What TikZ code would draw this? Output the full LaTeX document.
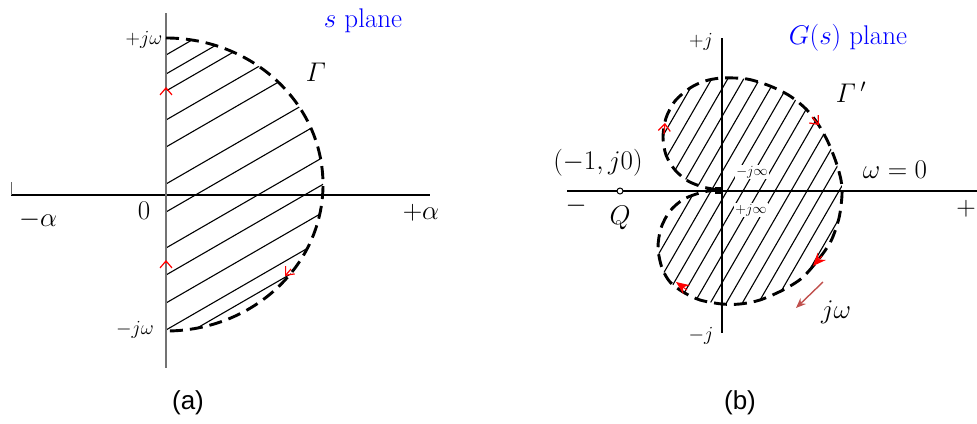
\documentclass[tikz,border=0pt]{standalone}
\usepackage{fix-cm}
\usepackage{fontspec}
\newfontfamily\arialfont{Liberation Sans}
\usetikzlibrary{arrows.meta}
\definecolor{planeblue}{RGB}{0,0,255}
\definecolor{jwred}{RGB}{192,80,77}
\begin{document}
\begin{tikzpicture}[x=1pt,y=-1pt,
  lbl/.style={inner sep=0pt, font=\fontsize{27}{32}\selectfont},
  mlbl/.style={inner sep=0pt, font=\fontsize{20}{24}\selectfont},
  slbl/.style={inner sep=1.5pt, fill=white, font=\fontsize{14}{17}\selectfont},
  capt/.style={inner sep=0pt, font=\arialfont\fontsize{26}{31}\selectfont},
  contour/.style={line width=2.9pt, dash pattern=on 13pt off 7pt},
  hatchline/.style={line width=1.1pt},
  axisline/.style={line width=1.6pt},
  chev/.style={red, line width=1.2pt, -{Straight Barb[length=7pt,width=12pt]}},
  solidtip/.style={red, line width=1pt, -{Stealth[length=13pt,width=11pt]}},
]
\useasboundingbox (0,0) rectangle (977,423);

% ================= (a) s plane =================
\coordinate (aL) at (11,195);
\coordinate (aR) at (430,195);
\coordinate (aT) at (166,13);
\coordinate (aB) at (166,368);
\coordinate (aTick) at (11,182);

\begin{scope}
  \clip (166,38) arc[start angle=-90,end angle=90,x radius=157,y radius=146.5] -- cycle;
  \foreach \y in {55,74,91,120,147,184,212,248,275,303,330,346}
    \draw[hatchline] (166,\y) -- ++(400,-231);
\end{scope}

\draw[axisline] (aL) -- (aR);
\draw[line width=1pt, black!60] (aTick) -- (aL);
\draw[line width=1.2pt, black!55] (aT) -- (aB);
\draw[contour] (166,38) arc[start angle=-90,end angle=90,x radius=157,y radius=146.5];

\draw[chev] (166,89) -- (166,87);
\draw[chev] (166,262) -- (166,260);
\draw[chev] (291,269) -- (285,276);

\node[lbl, text=planeblue] (splane) at (363,21) {$s$ plane};
\node[lbl] (gamma) at (316,72) {$\mathnormal{\Gamma}$};
\node[mlbl] (pjw) at (144,40) {$+j\omega$};
\node[lbl] (zero) at (144,211) {$0$};
\node[lbl] (mal) at (38,220) {$-\alpha$};
\node[lbl] (pal) at (421,213) {$+\alpha$};
\node[mlbl] (mjw) at (135,330) {$-j\omega$};
\node[capt] (capa) at (188,403) {(a)};

% ================= (b) G(s) plane =================
\coordinate (bL) at (567,191);
\coordinate (bR) at (977,191);
\coordinate (bT) at (722,38);
\coordinate (bB) at (722,333);

\def\bpath{plot[smooth,tension=0.5] coordinates {
 (718,190) (703,187) (688,181) (675,170) (666,155) (663,137) (666,118)
 (675,101) (690,88) (705,81) (722,78) (747,79) (770,86) (790,96)
 (806,109) (818,124) (828,142) (836,162) (841,180) (842,195) (839,218)
 (831,241) (818,260) (802,278) (783,290) (760,300) (740,304) (722,304)
 (700,300) (683,292) (670,282) (662,268) (658,248) (661,228) (670,211)
 (684,199) (703,192) (718,190)}}

\begin{scope}
  \clip \bpath;
  \foreach \k in {0,...,15}
    \draw[hatchline] ({631+16*\k-140},433.5) -- ++(280,-485);
\end{scope}

\node[slbl] (mjinf) at (752,172) {$-j\infty$};
\node[slbl] (pjinf) at (751,210) {$+j\infty$};

\draw[axisline] (bL) -- (bR);
\draw[line width=1.3pt] (bT) -- (bB);
\draw[contour] \bpath;
\fill (715,187) rectangle (722,194);

\node[circle, draw, fill=white, inner sep=0pt, minimum size=6pt, line width=1pt] (qpt) at (620,191) {};

\draw[chev] (664,134) -- (665,123);
\draw[chev] (812,117) -- (819,125);
\draw[solidtip] (822,256) -- (813,266);
\draw[solidtip] (687,290) -- (676,282);

\coordinate (jwS) at (823,282);
\coordinate (jwE) at (796,308);
\draw[jwred, line width=1.4pt, -{Stealth[length=10pt,width=8pt]}] (jwS) -- (jwE);

\node[mlbl] (pj) at (701,42) {$+j$};
\node[lbl, text=planeblue] (gplane) at (848,38) {$G(s)$ plane};
\node[lbl] (gammap) at (851,92) {$\mathnormal{\Gamma}\,'$};
\node[lbl] (m1) at (598,163) {$(-1,j0)$};
\node[lbl] (w0) at (895,170) {$\omega=0$};
\node[lbl] (minus) at (576,206) {$-$};
\node[lbl] (plus) at (966,209) {$+$};
\node[lbl] (Q) at (620,218) {$Q$};
\node[lbl] (jw) at (836,312) {$j\omega$};
\node[mlbl] (mj) at (701,336) {$-j$};
\node[capt] (capb) at (740,403) {(b)};
\end{tikzpicture}
\end{document}
